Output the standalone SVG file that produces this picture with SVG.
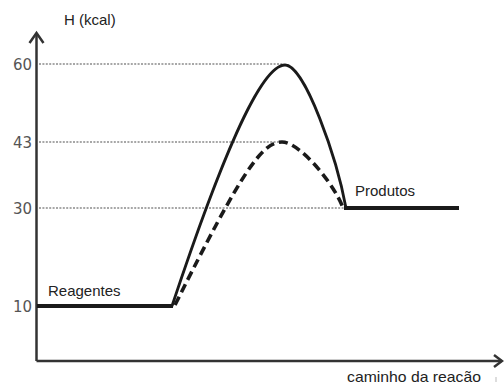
<svg xmlns="http://www.w3.org/2000/svg" width="504" height="385" viewBox="0 0 504 385">
<style>
.lbl{font-family:"Liberation Sans",Arial,sans-serif;font-size:15px;fill:#222}
.num{font-family:"DejaVu Sans",Verdana,sans-serif;font-size:15px;fill:#555;text-anchor:end}
.dot{stroke:#8a8a8a;stroke-width:1.6;stroke-dasharray:2 1.4;fill:none}
.axis{stroke:#333;stroke-width:2.5;fill:none}
.level{stroke:#1a1a1a;stroke-width:4;fill:none}
.curve{stroke:#1a1a1a;stroke-width:2.8;fill:none}
.dash{stroke:#1a1a1a;stroke-width:3.6;fill:none;stroke-dasharray:9 5}
</style>
<rect width="504" height="385" fill="#fff"/>
<g id="axes">
<path class="axis" d="M36.5,361 V33"/>
<path class="axis" d="M29.5,43 L36.5,33 L43.5,43"/>
<path class="axis" d="M36.5,361 H502"/>
<path class="axis" d="M494,355 L502,361 L494,367"/>
<text class="lbl" x="64" y="25">H (kcal)</text>
<text class="lbl" x="347" y="382" textLength="134" lengthAdjust="spacingAndGlyphs">caminho da reacão</text>
<line x1="496" y1="377" x2="496" y2="382" stroke="#bbb" stroke-width="1"/>
</g>
<g id="gridlines">
<line class="dot" x1="39" y1="64" x2="282" y2="64"/>
<line class="dot" x1="39" y1="142" x2="282" y2="142"/>
<line class="dot" x1="39" y1="208" x2="345" y2="208"/>
<text class="num" x="32" y="69.5">60</text>
<text class="num" x="32" y="147.5">43</text>
<text class="num" x="32" y="213.5">30</text>
<text class="num" x="32" y="311.5">10</text>
</g>
<g id="reagentes">
<line class="level" x1="37" y1="306" x2="173" y2="306"/>
<text class="lbl" x="48" y="296">Reagentes</text>
</g>
<g id="produtos">
<line class="level" x1="344" y1="208" x2="459" y2="208"/>
<text class="lbl" x="355" y="196">Produtos</text>
</g>
<g id="connectors">
<path class="curve" d="M172,306 C219.4,163.6 260,65 285,65 C305,65 337,159 346,208"/>
<path class="dash" d="M175,305 C242,171 262,142 282,142 C300,142 335,185 343,208"/>
</g>
</svg>
